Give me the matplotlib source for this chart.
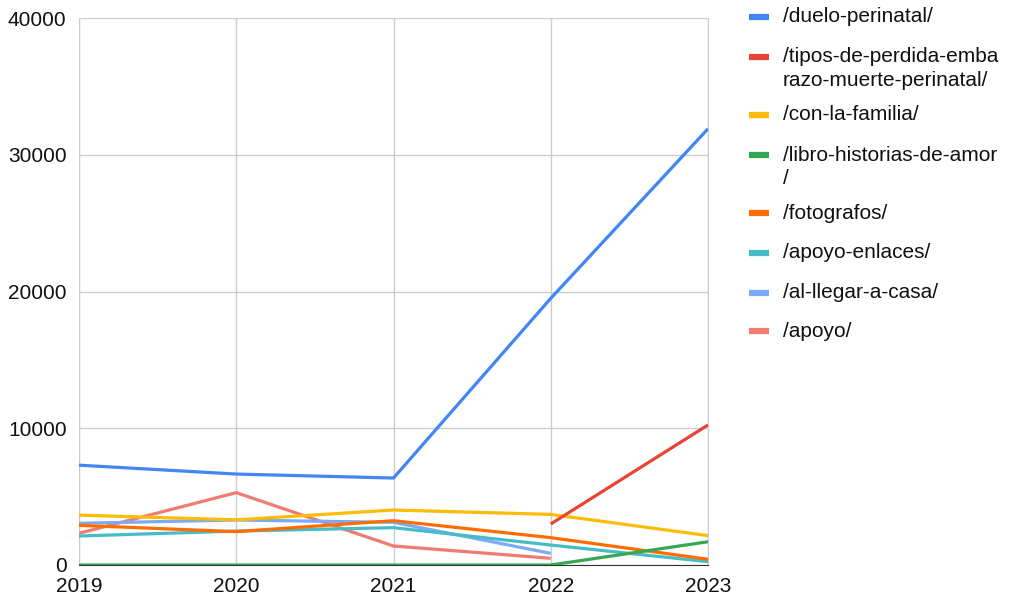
import numpy as np
import matplotlib.pyplot as plt
from matplotlib.lines import Line2D

plt.rcParams['font.family'] = ['Liberation Sans', 'DejaVu Sans']

years = [2019, 2020, 2021, 2022, 2023]
labels = ['/duelo-perinatal/', '/tipos-de-perdida-emba\nrazo-muerte-perinatal/',
          '/con-la-familia/', '/libro-historias-de-amor\n/', '/fotografos/',
          '/apoyo-enlaces/', '/al-llegar-a-casa/', '/apoyo/']
colors = ['#4285F4', '#EA4335', '#FBBC04', '#34A853', '#FF6D01',
          '#46BDC6', '#7BAAF7', '#F07B72']

duelo = [7300, 6650, 6360, 19500, 31900]
tipos = [np.nan, np.nan, np.nan, 3000, 10240]
familia = [3650, 3300, 4020, 3700, 2150]
libro = [0, 0, 0, 0, 1700]
fotografos = [2900, 2440, 3240, 2000, 420]
enlaces = [2120, 2480, 2730, 1460, 240]
llegar = [3050, 3290, 3120, 850, np.nan]
apoyo = [2320, 5290, 1390, 490, np.nan]
series = [duelo, tipos, familia, libro, fotografos, enlaces, llegar, apoyo]

fig = plt.figure(figsize=(10.11, 6.03), dpi=100)
ax = fig.add_axes([79/1011, 1-565/603, (708-79)/1011, (565-18)/603])

# draw in reverse so the first series ends on top
for vals, c in reversed(list(zip(series, colors))):
    ax.plot(years, vals, color=c, lw=2.3, solid_capstyle='butt', zorder=3)

ax.set_xlim(2019, 2023)
ax.set_ylim(0, 40000)
ax.set_xticks(years)
ax.set_yticks([0, 10000, 20000, 30000, 40000])
ax.grid(True, color='#cccccc', lw=1)
ax.set_axisbelow(True)
ax.spines['top'].set_visible(False)
ax.spines['right'].set_color('#cccccc')
ax.spines['left'].set_color('#cccccc')
ax.spines['bottom'].set_color('#333333')
ax.tick_params(length=0, labelsize=15, labelcolor='#111111')
ax.tick_params(axis='y', pad=9)
ax.tick_params(axis='x', pad=8.5)

# legend on the right
row_y = [17, 57, 115, 155, 213, 253, 293, 331]
for lab, c, ry in zip(labels, colors, row_y):
    yf = 1 - ry/603
    fig.add_artist(Line2D([749/1011, 769/1011], [yf, yf], color=c, lw=4.5,
                          transform=fig.transFigure, solid_capstyle='butt'))
    for i, line in enumerate(lab.split('\n')):
        fig.text(783/1011, 1 - (ry + i*23)/603, line, fontsize=15,
                 color='#111111', va='center', ha='left')

fig.savefig('out.png', dpi=100)
